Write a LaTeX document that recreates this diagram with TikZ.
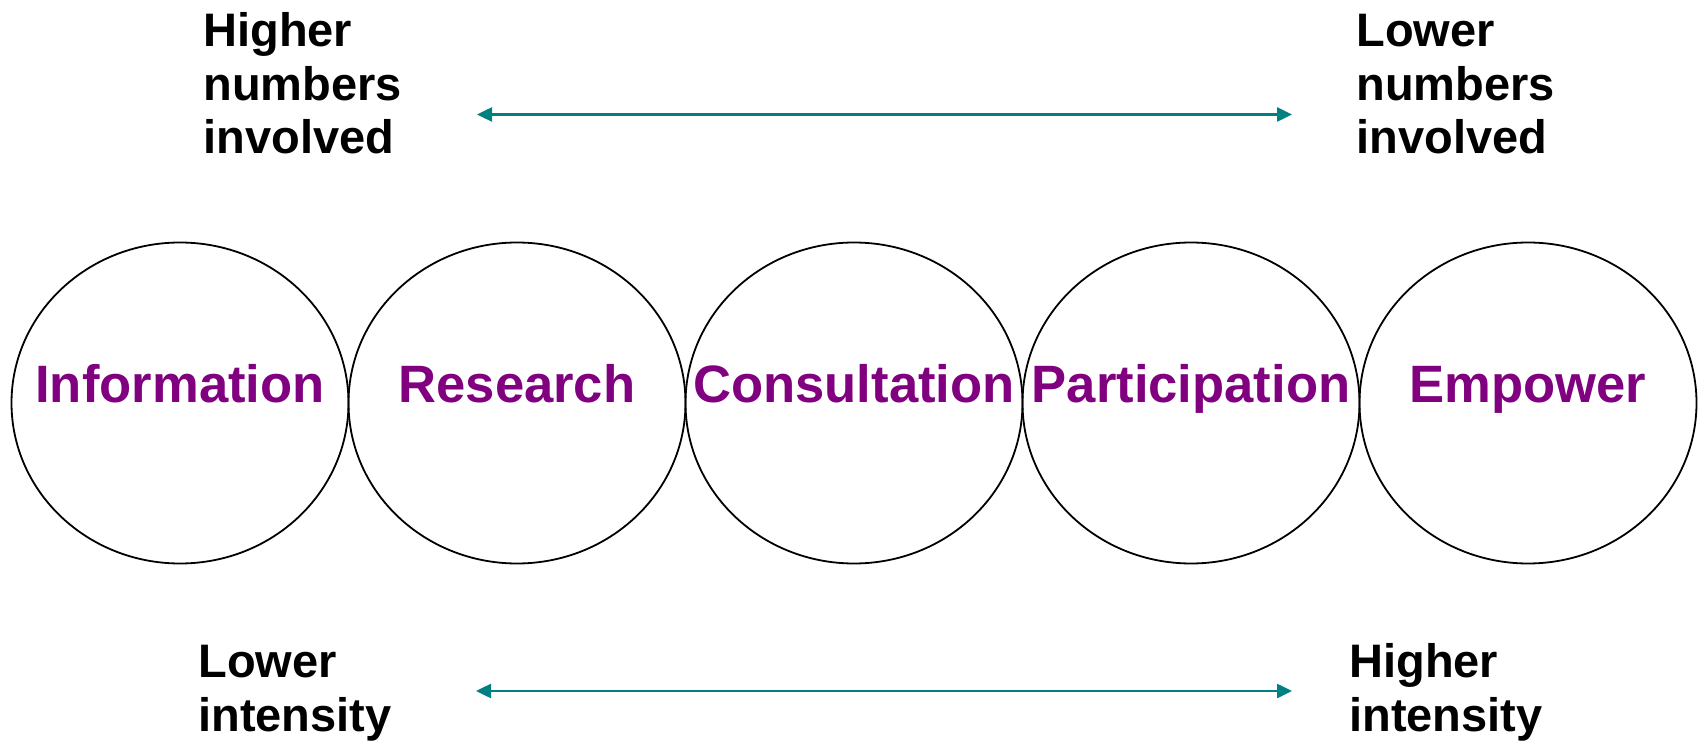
\documentclass[tikz,border=0pt]{standalone}
\usepackage{fontspec}
\setmainfont{Liberation Sans}
\usetikzlibrary{arrows.meta,shapes.geometric}
\definecolor{stagepurple}{HTML}{800080}
\definecolor{arrowteal}{HTML}{008080}
\begin{document}
\begin{tikzpicture}[x=0.5pt,y=0.5pt,
	stage/.style={draw,ellipse,line width=0.9pt,minimum width=168.5pt,minimum height=160.5pt,inner sep=0pt},
	stagetext/.style={anchor=base,inner sep=0pt,text=stagepurple,font=\fontsize{26.3}{30}\selectfont\bfseries},
	sidetext/.style={anchor=base west,align=left,inner sep=0pt,font=\fontsize{23.5}{26.8}\selectfont\bfseries},
	spanarrow/.style={arrowteal,line width=1.25pt,{Triangle[length=7.5pt,width=7pt]}-{Triangle[length=7.5pt,width=7pt]}}]
	\useasboundingbox (0,0) rectangle (1702,745);
	% the five stages
	\foreach \nm/\txt [count=\i from 0] in {info/Information,research/Research,consult/Consultation,partic/Participation,empower/Empower}{
		\node [stage] (\nm) at ({180+337*\i},342) {};
		\node [stagetext] (\nm-t) at (\nm.center) {\txt};
	}
	% numbers involved (base = last line)
	\node [sidetext] (hinum) at (203,591) {Higher\\numbers\\involved};
	\node [sidetext] (lonum) at (1356,591) {Lower\\numbers\\involved};
	\coordinate (numL) at (477,630.5);
	\coordinate (numR) at (1292,630.5);
	\draw [spanarrow] (numL) -- (numR);
	% intensity
	\node [sidetext] (loint) at (198,14) {Lower\\intensity};
	\node [sidetext] (hiint) at (1349,14) {Higher\\intensity};
	\coordinate (intL) at (476,54);
	\coordinate (intR) at (1292,54);
	\draw [spanarrow] (intL) -- (intR);
\end{tikzpicture}
\end{document}
